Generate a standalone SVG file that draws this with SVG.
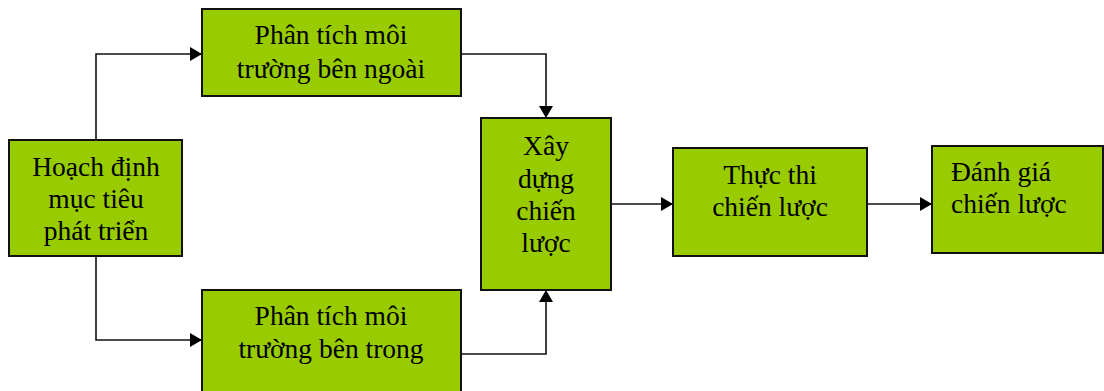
<svg xmlns="http://www.w3.org/2000/svg" width="1104" height="391" viewBox="0 0 1104 391">
  <defs>
    <style>
      .box { fill: #99cc00; stroke: #111; stroke-width: 2; }
      .lbl { font-family: "Liberation Serif", "Times New Roman", serif; font-size: 27.5px; fill: #000; text-anchor: middle; }
      .lbl-left { text-anchor: start; }
      .wire { fill: none; stroke: #111; stroke-width: 1.6; marker-end: url(#head); }
    </style>
    <marker id="head" viewBox="0 0 12 14" refX="12" refY="7" markerWidth="12" markerHeight="14" markerUnits="userSpaceOnUse" orient="auto">
      <path d="M0,0 L12,7 L0,14 z" fill="#000"/>
    </marker>
  </defs>

  <rect width="1104" height="391" fill="#fff"/>

  <!-- connectors -->
  <g id="connectors">
    <path class="wire" d="M96,140 V54 H202"/>
    <path class="wire" d="M96,256 V340 H202"/>
    <path class="wire" d="M461,54 H546 V118"/>
    <path class="wire" d="M461,354 H546 V290"/>
    <path class="wire" d="M611,204 H673"/>
    <path class="wire" d="M867,204 H932"/>
  </g>

  <g id="goal">
    <rect class="box" x="9" y="140" width="173" height="116"/>
    <text class="lbl" x="96" y="176">Hoạch định</text>
    <text class="lbl" x="96" y="208">mục tiêu</text>
    <text class="lbl" x="96" y="240">phát triển</text>
  </g>

  <g id="external">
    <rect class="box" x="202" y="9" width="259" height="87"/>
    <text class="lbl" x="331" y="44">Phân tích môi</text>
    <text class="lbl" x="331" y="78">trường bên ngoài</text>
  </g>

  <g id="internal">
    <rect class="box" x="202" y="290" width="259" height="110"/>
    <text class="lbl" x="331" y="325">Phân tích môi</text>
    <text class="lbl" x="331" y="358">trường bên trong</text>
  </g>

  <g id="build">
    <rect class="box" x="481" y="118" width="130" height="172"/>
    <text class="lbl" x="546" y="155">Xây</text>
    <text class="lbl" x="546" y="188">dựng</text>
    <text class="lbl" x="546" y="220">chiến</text>
    <text class="lbl" x="546" y="252">lược</text>
  </g>

  <g id="implement">
    <rect class="box" x="673" y="148" width="194" height="108"/>
    <text class="lbl" x="770" y="184">Thực thi</text>
    <text class="lbl" x="770" y="216">chiến lược</text>
  </g>

  <g id="evaluate">
    <rect class="box" x="932" y="146" width="171" height="107"/>
    <text class="lbl lbl-left" x="951" y="181">Đánh giá</text>
    <text class="lbl lbl-left" x="951" y="213">chiến lược</text>
  </g>
</svg>
